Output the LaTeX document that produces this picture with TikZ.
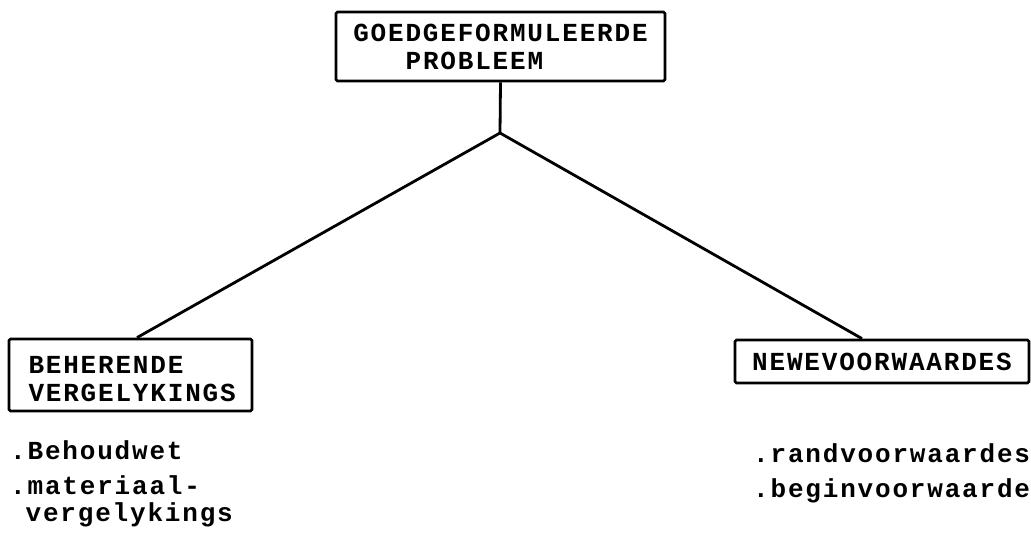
\documentclass[tikz,border=0pt]{standalone}
\usepackage{fontspec}
\setmonofont{Liberation Mono}[LetterSpace=7]
\begin{document}
\begin{tikzpicture}[x=1pt,y=-1pt,
  txt/.style={font=\ttfamily\bfseries\fontsize{26}{28}\selectfont},
  box/.style={txt,draw,line width=2.8pt,rounded corners=1.5pt,inner sep=0pt,align=left},
  conn/.style={line width=2.8pt},
  item/.style={txt,inner sep=0pt,anchor=base west}]
\useasboundingbox (0,0) rectangle (1031,537);
\node[box,minimum width=329pt,minimum height=69pt] (top) at (500.5,46.5)
  {GOEDGEFORMULEERDE\\\ \ \ PROBLEEM};
\node[box,minimum width=243pt,minimum height=72pt,text width=204pt] (left) at (130.5,375)
  {\rule{0pt}{26pt}BEHERENDE\\VERGELYKINGS};
\node[box,minimum width=294pt,minimum height=43pt] (right) at (882,361.5)
  {NEWEVOORWAARDES};
\coordinate (j) at (500,133);
\draw[conn] (top.south) -- (j);
\draw[conn] (j) -- (left.north -| 137,0);
\draw[conn] (j) -- (right.north -| 862,0);
\node[item] (b1) at (10,459) {.Behoudwet};
\node[item] (b2) at (10,494) {.materiaal-};
\node[item] (b3) at (8,521) {\ vergelykings};
\node[item] (r1) at (753,462) {.randvoorwaardes};
\node[item] (r2) at (753,497) {.beginvoorwaarde};
\end{tikzpicture}
\end{document}
